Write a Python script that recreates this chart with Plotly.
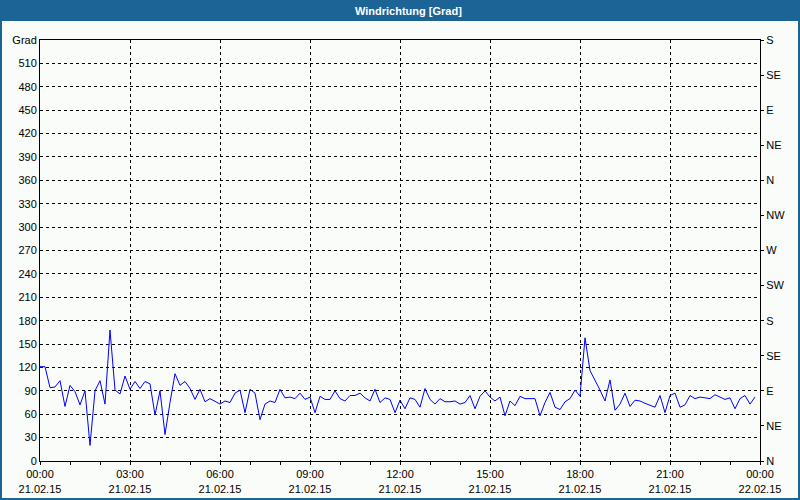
import pandas as pd
import plotly.graph_objects as go

# ---- data ----
start_time = "2015-02-21 00:00"
n_points = 144  # 10-minute samples
direction_deg = [
    121, 121, 94, 95, 103, 70, 97, 89, 72, 90, 20, 90, 103, 73, 168, 91, 86, 109, 92, 102,
    93, 102, 99, 59, 90, 34, 75, 112, 97, 102, 93, 79, 92, 76, 80, 77, 73, 77, 75, 87,
    91, 62, 92, 87, 53, 73, 77, 75, 92, 81, 82, 80, 87, 79, 82, 62, 83, 79, 79, 90,
    80, 77, 84, 84, 87, 81, 77, 92, 75, 81, 79, 62, 78, 67, 81, 79, 69, 93, 79, 73,
    80, 76, 76, 77, 73, 75, 84, 67, 83, 90, 82, 77, 82, 58, 77, 71, 83, 80, 80, 80,
    58, 75, 88, 69, 66, 76, 80, 91, 83, 158, 116, 104, 91, 77, 104, 65, 73, 87, 70, 78,
    77, 74, 72, 69, 84, 62, 84, 87, 69, 72, 84, 80, 82, 81, 80, 85, 82, 79, 81, 67,
    80, 84, 73, 82,
]
left_tickvals = list(range(0, 541, 30))
left_ticktext = [str(v) for v in range(0, 511, 30)] + ["Grad"]
right_tickvals = list(range(0, 541, 45))
right_ticktext = ["N", "NE", "E", "SE", "S", "SW", "W", "NW", "N", "NE", "E", "SE", "S"]
title_text = "Windrichtung [Grad]"

times = pd.date_range(start_time, periods=n_points, freq="10min")

# ---- figure ----
W, H = 800, 500
L, R, T, B = 40, 40, 40, 39
pw, ph = W - L - R, H - T - B


def px(xp):
    return (xp - L) / pw


def py(yp):
    return (H - B - yp) / ph


font = dict(family="Liberation Sans, Arial, sans-serif", size=11, color="black")
bg = "#F9FCF9"
blue = "#1D6496"

fig = go.Figure()
fig.add_trace(go.Scatter(x=times, y=direction_deg, mode="lines",
                         line=dict(color="#0000FF", width=1), hoverinfo="skip",
                         showlegend=False))
fig.add_trace(go.Scatter(x=[times[0]], y=[0], yaxis="y2", mode="markers",
                         marker=dict(opacity=0), showlegend=False, hoverinfo="skip"))

fig.update_layout(
    width=W, height=H,
    margin=dict(l=L, r=R, t=T, b=B, pad=0),
    paper_bgcolor=bg, plot_bgcolor=bg,
    font=font,
    showlegend=False,
    xaxis=dict(
        range=["2015-02-21 00:00", "2015-02-22 00:00"],
        dtick=3 * 3600 * 1000, tick0="2015-02-21 00:00",
        tickformat="%H:%M<br>%d.%m.%y",
        showgrid=True, gridcolor="black", gridwidth=1, griddash="3px,3px",
        showline=True, linecolor="black", linewidth=1, mirror=True,
        ticks="outside", ticklen=3, tickcolor="black",
        minor=dict(dtick=3600 * 1000, tick0="2015-02-21 00:00", ticks="outside",
                   ticklen=3, tickcolor="black", showgrid=False),
        zeroline=False, automargin=False, fixedrange=True,
        tickfont=font,
    ),
    yaxis=dict(
        range=[0, 540],
        tickvals=left_tickvals, ticktext=left_ticktext,
        showgrid=True, gridcolor="black", gridwidth=1, griddash="3px,3px",
        showline=True, linecolor="black", linewidth=1, mirror=True,
        ticks="", ticklen=0,
        zeroline=False, automargin=False, fixedrange=True,
        tickfont=font,
    ),
    yaxis2=dict(
        range=[0, 540], overlaying="y", side="right", anchor="x",
        tickvals=right_tickvals, ticktext=right_ticktext,
        showgrid=False, showline=False,
        ticks="outside", ticklen=3, tickcolor="black",
        zeroline=False, automargin=False, fixedrange=True,
        tickfont=font,
    ),
    shapes=[
        dict(type="rect", xref="paper", yref="paper",
             x0=px(0), x1=px(W), y0=py(21), y1=py(0),
             fillcolor=blue, line=dict(width=0), layer="above"),
        dict(type="rect", xref="paper", yref="paper",
             x0=px(1), x1=px(W - 1), y0=py(H - 1), y1=py(1),
             fillcolor="rgba(0,0,0,0)", line=dict(color=blue, width=2), layer="above"),
    ],
    annotations=[
        dict(text=title_text, xref="paper", yref="paper",
             x=px(409), y=py(10.5), xanchor="center", yanchor="middle",
             showarrow=False,
             font=dict(family="Liberation Sans, Arial, sans-serif", size=11,
                       color="white", weight="bold")),
    ],
)

fig.write_html(
    "out.html",
    config={"displayModeBar": False},
    post_script="document.body.style.margin='0';document.body.style.overflow='hidden';",
)
